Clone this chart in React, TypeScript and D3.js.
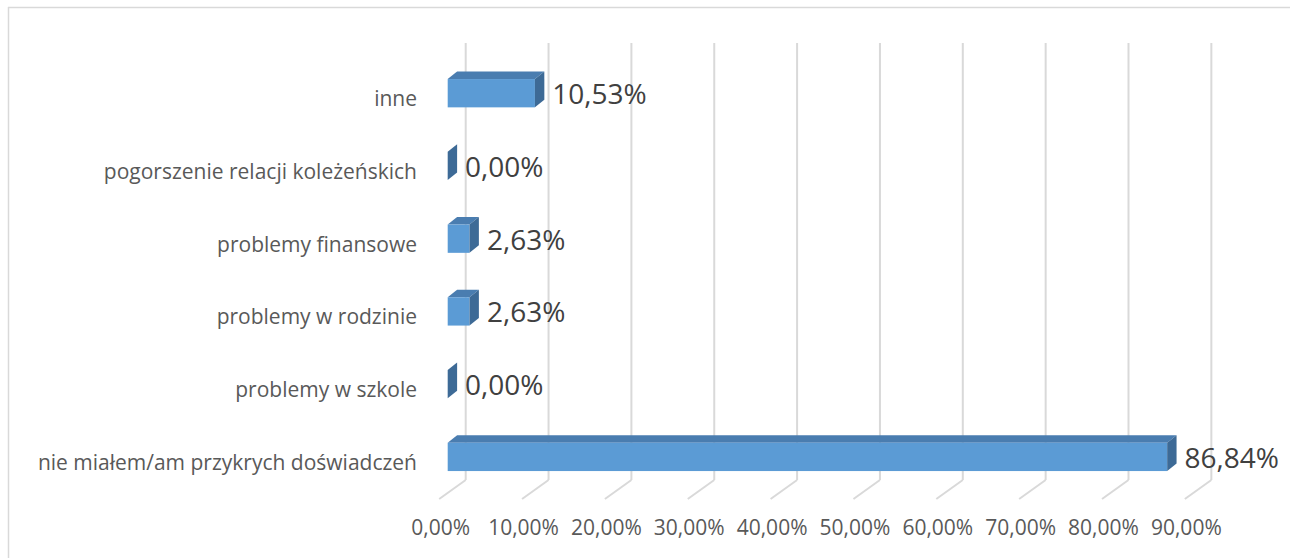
import React from "react";
import * as d3 from "d3";

const categories = [
  "nie miałem/am przykrych doświadczeń",
  "problemy w szkole",
  "problemy w rodzinie",
  "problemy finansowe",
  "pogorszenie relacji koleżeńskich",
  "inne",
];
const values = [86.84, 0, 2.63, 2.63, 0, 10.53];
const tickValues = [0, 10, 20, 30, 40, 50, 60, 70, 80, 90];

const fmt = (v: number) => v.toFixed(2).replace(".", ",") + "%";

const W = 1290;
const H = 558;
const FONT = "'Open Sans', sans-serif";

// 3D geometry
const BACK_DX = 18; // front plane -> back wall shift in x
const BAR_DX = 9.4;
const BAR_DY = -7.5;
const FLOOR_DX = -26.5;
const FLOOR_DY = 19;
const GRID_TOP = 43;
const GRID_BOTTOM = 480;
const BAR_H = 28.3;

export default function App() {
  const x = d3.scaleLinear().domain([0, 90]).range([447.7, 447.7 + 90 * 8.285]);
  const topDown = [...categories].reverse();
  const y = d3
    .scaleBand<string>()
    .domain(topDown)
    .range([56.83, 56.83 + 6 * 72.74])
    .padding(0);
  const cy = (c: string) => (y(c) as number) + y.bandwidth() / 2;

  return (
    <svg
      width={W}
      height={H}
      style={{ position: "absolute", left: 0, top: 0, background: "#fff", overflow: "hidden" }}
    >
      <line x1={8} x2={W} y1={7.5} y2={7.5} stroke="#d9d9d9" strokeWidth={1.5} />
      <line x1={8.5} x2={8.5} y1={7} y2={H} stroke="#d9d9d9" strokeWidth={1.5} />
      {/* back wall gridlines + floor lines */}
      {tickValues.map((t) => {
        const bx = x(t) + BACK_DX;
        return (
          <g key={t}>
            <line x1={bx} x2={bx} y1={GRID_TOP} y2={GRID_BOTTOM} stroke="#d9d9d9" strokeWidth={2} />
            <line
              x1={bx}
              y1={GRID_BOTTOM}
              x2={bx + FLOOR_DX}
              y2={GRID_BOTTOM + FLOOR_DY}
              stroke="#d9d9d9"
              strokeWidth={2}
            />
            <text
              x={bx + FLOOR_DX + 1.5}
              y={535}
              textAnchor="middle"
              fontFamily={FONT}
              fontSize={21}
              fill="#595959"
            >
              {fmt(t)}
            </text>
          </g>
        );
      })}
      {/* bars */}
      {categories.map((c, i) => {
        const v = values[i];
        const c0 = cy(c);
        const y0 = c0 - BAR_H / 2;
        const y1 = c0 + BAR_H / 2;
        const x0 = x(0);
        const x1 = x(v);
        const top = `M${x0},${y0} L${x0 + BAR_DX},${y0 + BAR_DY} L${x1 + BAR_DX},${y0 + BAR_DY} L${x1},${y0} Z`;
        const side = `M${x1},${y0} L${x1 + BAR_DX},${y0 + BAR_DY} L${x1 + BAR_DX},${y1 + BAR_DY} L${x1},${y1} Z`;
        return (
          <g key={c}>
            {v > 0 && <path d={top} fill="#4a7db0" />}
            {v > 0 && <rect x={x0} y={y0} width={x1 - x0} height={BAR_H} fill="#5b9bd5" />}
            <path d={side} fill="#3d6a96" />
            <text
              x={x1 + BAR_DX + 8}
              y={c0 + 11}
              fontFamily={FONT}
              fontSize={28}
              fill="#404040"
            >
              {fmt(v)}
            </text>
            <text
              x={417}
              y={c0 + 13}
              textAnchor="end"
              fontFamily={FONT}
              fontSize={21}
              fill="#595959"
            >
              {c}
            </text>
          </g>
        );
      })}
    </svg>
  );
}
